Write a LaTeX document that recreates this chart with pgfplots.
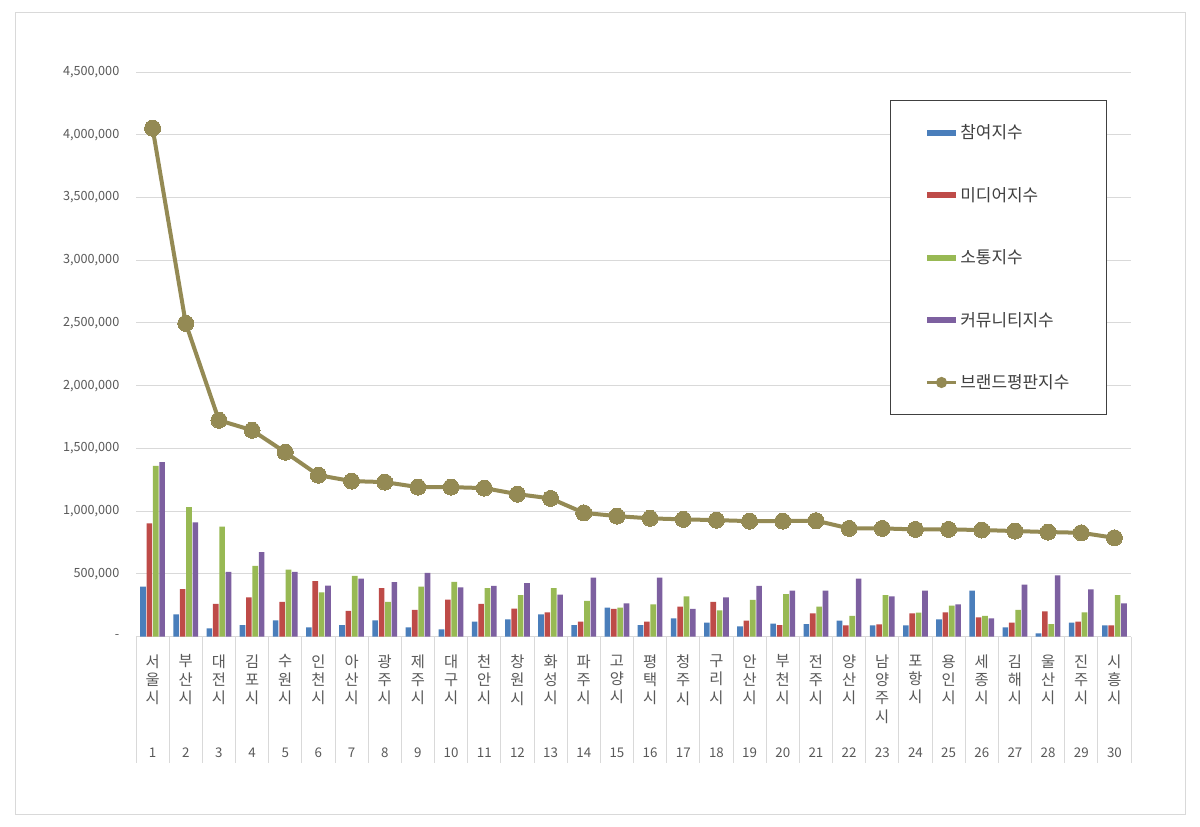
\documentclass[border=0pt]{standalone}
\usepackage{fontspec}
\setmainfont{Noto Sans CJK KR}
\usepackage{pgfplots}
\pgfplotsset{compat=1.18}
\definecolor{cBlue}{HTML}{4A7EBB}
\definecolor{cRed}{HTML}{BE4B48}
\definecolor{cGreen}{HTML}{98B954}
\definecolor{cPurple}{HTML}{7D60A0}
\definecolor{cOlive}{HTML}{948A54}
\definecolor{cText}{HTML}{595959}
\definecolor{cGrid}{HTML}{D9D9D9}
\begin{document}
\begin{tikzpicture}
\fill[white] (0,0) rectangle (900pt,620.25pt);
\draw[cGrid, line width=0.75pt] (11.25pt,9pt) rectangle (888.75pt,610.5pt);
\begin{axis}[
  at={(102pt,142.725pt)}, anchor=south west,
  scale only axis, width=746.25pt, height=423.5pt,
  xmin=0.5, xmax=30.5, ymin=0, ymax=4500000,
  axis line style={draw=none},
  scaled y ticks=false,
  ytick={0,500000,1000000,1500000,2000000,2500000,3000000,3500000,4000000,4500000},
  yticklabels={{-},{500,000},{1,000,000},{1,500,000},{2,000,000},{2,500,000},{3,000,000},{3,500,000},{4,000,000},{4,500,000}},
  yticklabel style={font=\fontsize{9.5}{11}\selectfont, text=cText, xshift=-9pt},
  ymajorgrids, grid style={color=cGrid, line width=0.75pt},
  major tick length=0pt,
  xtick={1,...,30},
  xticklabels={{서\\울\\시},{부\\산\\시},{대\\전\\시},{김\\포\\시},{수\\원\\시},{인\\천\\시},{아\\산\\시},{광\\주\\시},{제\\주\\시},{대\\구\\시},{천\\안\\시},{창\\원\\시},{화\\성\\시},{파\\주\\시},{고\\양\\시},{평\\택\\시},{청\\주\\시},{구\\리\\시},{안\\산\\시},{부\\천\\시},{전\\주\\시},{양\\산\\시},{남\\양\\주\\시},{포\\항\\시},{용\\인\\시},{세\\종\\시},{김\\해\\시},{울\\산\\시},{진\\주\\시},{시\\흥\\시}},
  xticklabel style={anchor=north, align=center, font=\fontsize{11.5}{13.7}\selectfont, text=cText, yshift=-10pt},
  minor xtick={0.5,1.5,...,30.5},
  minor tick length=94.5pt,
  minor tick style={color=cGrid, line width=0.75pt},
  tick align=outside, tick pos=left,
  extra x ticks={1,...,30},
  extra x tick labels={1,2,3,4,5,6,7,8,9,10,11,12,13,14,15,16,17,18,19,20,21,22,23,24,25,26,27,28,29,30},
  extra x tick style={major tick length=0pt, xticklabel style={yshift=-70pt, font=\fontsize{10}{12}\selectfont}},
  legend style={at={(0.758,0.950)}, anchor=north west, draw=black!75, line width=0.8pt, fill=white,
    font=\fontsize{12.7}{14.5}\selectfont, text=black!75, row sep=30.8pt, inner xsep=26pt, inner ysep=16pt,
    /tikz/every even column/.append style={column sep=1pt}},
  legend cell align=left,
  clip=false,
]
\addplot[ybar, bar width=4.2pt, bar shift=-7.2pt, fill=cBlue, draw=none,
  legend image code/.code={\fill[cBlue] (0pt,-2.3pt) rectangle (22pt,2.3pt);}]
coordinates {(1,399000)(2,178000)(3,66000)(4,93000)(5,130000)(6,74000)(7,93000)(8,130000)(9,74000)(10,59000)
(11,120000)(12,138000)(13,178000)(14,93000)(15,231000)(16,93000)(17,146000)(18,112000)(19,82000)(20,104000)
(21,101000)(22,128000)(23,90000)(24,90000)(25,138000)(26,367000)(27,74000)(28,27000)(29,112000)(30,90000)};
\addlegendentry{참여지수}
\addplot[ybar, bar width=4.2pt, bar shift=-2.4pt, fill=cRed, draw=none,
  legend image code/.code={\fill[cRed] (0pt,-2.3pt) rectangle (22pt,2.3pt);}]
coordinates {(1,904000)(2,380000)(3,261000)(4,314000)(5,277000)(6,442000)(7,205000)(8,388000)(9,213000)(10,295000)
(11,261000)(12,223000)(13,194000)(14,120000)(15,221000)(16,120000)(17,239000)(18,277000)(19,128000)(20,93000)
(21,186000)(22,90000)(23,98000)(24,186000)(25,194000)(26,154000)(27,112000)(28,202000)(29,120000)(30,90000)};
\addlegendentry{미디어지수}
\addplot[ybar, bar width=4.2pt, bar shift=2.4pt, fill=cGreen, draw=none,
  legend image code/.code={\fill[cGreen] (0pt,-2.3pt) rectangle (22pt,2.3pt);}]
coordinates {(1,1362000)(2,1032000)(3,878000)(4,564000)(5,535000)(6,354000)(7,484000)(8,277000)(9,399000)(10,436000)
(11,388000)(12,332000)(13,388000)(14,285000)(15,231000)(16,258000)(17,322000)(18,210000)(19,293000)(20,340000)
(21,239000)(22,165000)(23,332000)(24,191000)(25,247000)(26,165000)(27,213000)(28,101000)(29,194000)(30,332000)};
\addlegendentry{소통지수}
\addplot[ybar, bar width=4.2pt, bar shift=7.2pt, fill=cPurple, draw=none,
  legend image code/.code={\fill[cPurple] (0pt,-2.3pt) rectangle (22pt,2.3pt);}]
coordinates {(1,1391000)(2,912000)(3,516000)(4,673000)(5,516000)(6,407000)(7,463000)(8,434000)(9,508000)(10,394000)
(11,404000)(12,426000)(13,335000)(14,471000)(15,266000)(16,471000)(17,221000)(18,314000)(19,404000)(20,367000)
(21,367000)(22,463000)(23,322000)(24,367000)(25,258000)(26,146000)(27,415000)(28,489000)(29,378000)(30,266000)};
\addlegendentry{커뮤니티지수}
\addplot[color=cOlive, line width=3pt, mark=*, mark size=6pt, mark options={fill=cOlive, draw=cOlive, line width=0pt},
  legend image code/.code={\draw[cOlive, line width=2.2pt] (0pt,0pt) -- (22pt,0pt); \fill[cOlive] (11pt,0pt) circle (2.6pt);}]
coordinates {(1,4053000)(2,2497000)(3,1725000)(4,1645000)(5,1470000)(6,1287000)(7,1240000)(8,1232000)(9,1192000)(10,1192000)
(11,1184000)(12,1136000)(13,1102000)(14,987000)(15,961000)(16,943000)(17,935000)(18,929000)(19,921000)(20,921000)
(21,925000)(22,863000)(23,863000)(24,855000)(25,855000)(26,850000)(27,842000)(28,834000)(29,828000)(30,788000)};
\addlegendentry{브랜드평판지수}
\end{axis}
\end{tikzpicture}
\end{document}
